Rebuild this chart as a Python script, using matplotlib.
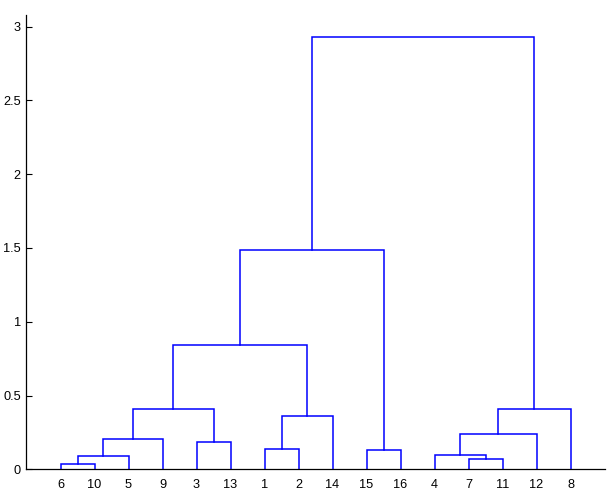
import matplotlib
matplotlib.use("Agg")
import matplotlib.pyplot as plt

# Leaf order as displayed along the x axis
leaf_order = [6, 10, 5, 9, 3, 13, 1, 2, 14, 15, 16, 4, 7, 11, 12, 8]

# Linkage: (cluster a, cluster b, height); new clusters numbered 17, 18, ...
merge_a = [6, 7, 17, 4, 15, 1, 3, 19, 20, 22, 24, 25, 27, 29, 30]
merge_b = [10, 11, 5, 18, 16, 2, 13, 9, 12, 14, 23, 8, 26, 21, 28]
heights = [0.034, 0.068, 0.088, 0.095, 0.128, 0.135, 0.182, 0.203,
           0.238, 0.358, 0.412, 0.412, 0.845, 1.488, 2.932]

y_ticks = [0, 0.5, 1, 1.5, 2, 2.5, 3]
y_tick_labels = ["0", "0.5", "1", "1.5", "2", "2.5", "3"]

plt.rcParams['font.family'] = ['Liberation Sans', 'DejaVu Sans']

fig = plt.figure(figsize=(6.08, 4.94), dpi=100)
ax = fig.add_axes([26.5 / 608, (494 - 469.3) / 494, 578 / 608, (469.3 - 15) / 494])

n = len(leaf_order)
xpos = {leaf: i + 1 for i, leaf in enumerate(leaf_order)}
ypos = {leaf: 0.0 for leaf in leaf_order}

color = (0, 0, 1)
for k, (a, b, h) in enumerate(zip(merge_a, merge_b, heights)):
    node = n + 1 + k
    xa, xb = xpos[a], xpos[b]
    ya, yb = ypos[a], ypos[b]
    ax.plot([xa, xa, xb, xb], [ya, h, h, yb], color=color, lw=1.1,
            solid_joinstyle='miter', clip_on=False)
    xpos[node] = (xa + xb) / 2
    ypos[node] = h

ax.set_xlim(0, n + 1)
ax.set_ylim(0, max(heights) * 1.05)

ax.set_xticks(range(1, n + 1))
ax.set_xticklabels([str(l) for l in leaf_order])
ax.set_yticks(y_ticks)
ax.set_yticklabels(y_tick_labels)

ax.tick_params(axis='x', length=0, pad=7, labelsize=9.2)
ax.tick_params(axis='y', direction='in', length=4.5, width=0.8, pad=4, labelsize=9.2)

for s in ['top', 'right']:
    ax.spines[s].set_visible(False)
for s in ['left', 'bottom']:
    ax.spines[s].set_linewidth(0.9)

fig.savefig("out.png", dpi=100)
